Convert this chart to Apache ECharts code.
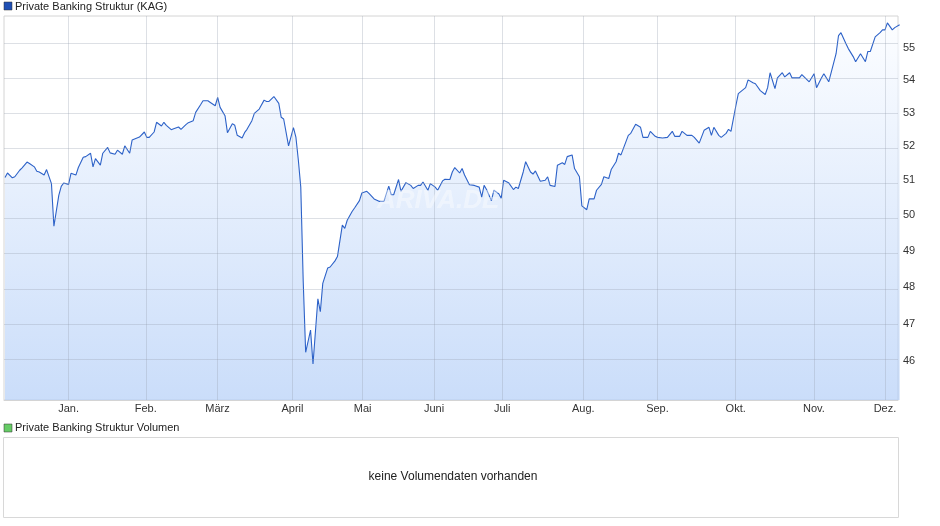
<!DOCTYPE html>
<html><head><meta charset="utf-8">
<script src="https://cdn.jsdelivr.net/npm/echarts@6/dist/echarts.min.js"></script>
<style>html,body{margin:0;padding:0;background:#fff}#c{width:940px;height:526px}</style>
</head><body><div id="c"></div>
<script>
const dates = ['2024-12-06','2024-12-07','2024-12-09','2024-12-10','2024-12-12','2024-12-13','2024-12-15','2024-12-16','2024-12-18','2024-12-19','2024-12-20','2024-12-22','2024-12-23','2024-12-25','2024-12-26','2024-12-28','2024-12-29','2024-12-30',
'2025-01-01','2025-01-02','2025-01-04','2025-01-05','2025-01-07','2025-01-08','2025-01-10','2025-01-11','2025-01-12','2025-01-14','2025-01-15','2025-01-17','2025-01-18','2025-01-20','2025-01-21','2025-01-23','2025-01-24','2025-01-26','2025-01-27','2025-01-28','2025-01-30',
'2025-02-01','2025-02-02','2025-02-03','2025-02-05','2025-02-06','2025-02-08','2025-02-09','2025-02-10','2025-02-12','2025-02-13','2025-02-15','2025-02-16','2025-02-18','2025-02-19','2025-02-21','2025-02-22','2025-02-24','2025-02-25','2025-02-27','2025-02-28',
'2025-03-02','2025-03-03','2025-03-04','2025-03-06','2025-03-07','2025-03-09','2025-03-10','2025-03-11','2025-03-13','2025-03-14','2025-03-15','2025-03-17','2025-03-18','2025-03-20','2025-03-22','2025-03-23','2025-03-24','2025-03-26','2025-03-28','2025-03-29','2025-03-30',
'2025-04-01','2025-04-03','2025-04-04','2025-04-05','2025-04-06','2025-04-07','2025-04-08','2025-04-10','2025-04-11','2025-04-13','2025-04-14','2025-04-15','2025-04-17','2025-04-18','2025-04-20','2025-04-21','2025-04-23','2025-04-24','2025-04-25','2025-04-27','2025-04-28','2025-04-30',
'2025-05-01','2025-05-03','2025-05-04','2025-05-06','2025-05-08','2025-05-10','2025-05-12','2025-05-13','2025-05-14','2025-05-16','2025-05-17','2025-05-19','2025-05-21','2025-05-22','2025-05-24','2025-05-25','2025-05-26','2025-05-28','2025-05-29','2025-05-31',
'2025-06-01','2025-06-03','2025-06-04','2025-06-06','2025-06-07','2025-06-08','2025-06-10','2025-06-11','2025-06-12','2025-06-14','2025-06-16','2025-06-18','2025-06-19','2025-06-20','2025-06-21','2025-06-23','2025-06-24','2025-06-26','2025-06-27','2025-06-28','2025-06-30',
'2025-07-02','2025-07-03','2025-07-04','2025-07-06','2025-07-07','2025-07-09','2025-07-10','2025-07-11','2025-07-13','2025-07-15','2025-07-16','2025-07-17','2025-07-19','2025-07-20','2025-07-22','2025-07-23','2025-07-24','2025-07-26','2025-07-27','2025-07-29','2025-07-30',
'2025-08-01','2025-08-02','2025-08-04','2025-08-05','2025-08-07','2025-08-08','2025-08-10','2025-08-11','2025-08-13','2025-08-14','2025-08-15','2025-08-18','2025-08-19','2025-08-21','2025-08-23','2025-08-24','2025-08-26','2025-08-27','2025-08-29','2025-08-30',
'2025-09-01','2025-09-03','2025-09-05','2025-09-06','2025-09-08','2025-09-09','2025-09-11','2025-09-13','2025-09-14','2025-09-16','2025-09-18','2025-09-20','2025-09-21','2025-09-22','2025-09-24','2025-09-25','2025-09-27','2025-09-28','2025-09-29',
'2025-10-01','2025-10-02','2025-10-05','2025-10-06','2025-10-08','2025-10-09','2025-10-11','2025-10-13','2025-10-14','2025-10-15','2025-10-17','2025-10-18','2025-10-20','2025-10-21','2025-10-23','2025-10-24','2025-10-27','2025-10-28','2025-10-31',
'2025-11-02','2025-11-03','2025-11-05','2025-11-06','2025-11-08','2025-11-11','2025-11-12','2025-11-13','2025-11-15','2025-11-16','2025-11-18','2025-11-19','2025-11-21','2025-11-23','2025-11-24','2025-11-25','2025-11-27','2025-11-29','2025-11-30',
'2025-12-01','2025-12-02','2025-12-04','2025-12-05','2025-12-07'];
const prices = [51.08,51.21,51.07,51.10,51.29,51.36,51.53,51.49,51.39,51.26,51.24,51.15,51.31,50.90,49.68,50.56,50.82,50.92,
50.88,51.20,51.15,51.37,51.67,51.69,51.79,51.39,51.63,51.44,51.79,51.96,51.80,51.76,51.88,51.76,52.01,51.79,52.18,52.21,52.27,
52.42,52.26,52.26,52.42,52.71,52.60,52.71,52.62,52.49,52.52,52.57,52.50,52.64,52.70,52.76,53.01,53.24,53.36,53.36,53.31,
53.21,53.46,53.16,52.91,52.40,52.67,52.62,52.32,52.24,52.40,52.50,52.76,52.98,53.11,53.38,53.34,53.34,53.49,53.28,52.86,52.81,
52.01,52.55,52.27,51.59,50.80,48.14,46.24,46.83,45.93,47.67,47.32,48.09,48.51,48.54,48.71,48.83,49.71,49.62,49.85,50.10,50.20,50.41,
50.63,50.68,50.61,50.46,50.39,50.39,50.83,50.58,50.58,51.02,50.68,50.93,50.85,50.76,50.85,50.85,50.95,50.71,50.90,50.80,
50.71,50.98,51.03,51.02,51.24,51.37,51.21,51.34,51.15,50.87,50.85,50.80,50.51,50.85,50.73,50.41,50.71,50.61,50.48,51.00,50.93,
50.73,50.80,50.76,51.24,51.54,51.24,51.18,51.27,50.97,51.00,51.10,50.85,50.82,51.44,51.51,51.46,51.69,51.74,51.34,51.10,50.26,
50.15,50.46,50.46,50.71,50.88,51.10,51.05,51.31,51.54,51.79,51.74,52.32,52.38,52.65,52.56,52.26,52.26,52.44,52.29,52.26,
52.24,52.26,52.44,52.29,52.29,52.44,52.32,52.32,52.26,52.09,52.47,52.56,52.32,52.56,52.32,52.26,52.38,52.50,52.44,
53.21,53.58,53.76,54.00,53.91,53.88,53.67,53.55,53.76,54.22,53.73,54.06,54.22,54.09,54.22,54.06,54.06,54.16,53.94,
54.19,53.76,54.06,54.19,53.94,54.81,55.38,55.47,55.13,54.97,54.72,54.56,54.81,54.56,54.88,54.88,55.34,55.47,55.56,
55.56,55.78,55.56,55.63,55.72];
const yTicks = [46,47,48,49,50,51,52,53,54,55];
const monthGridDates = ['2025-01-01T00:00','2025-02-01T14:00','2025-03-02T22:00','2025-04-02T14:00','2025-05-01T08:00','2025-05-30T12:00','2025-06-27T10:00','2025-07-30T14:00','2025-08-29T22:00','2025-09-30T22:00','2025-11-01T22:00','2025-12-01T00:00'];
const monthLabels = ['Jan.','Feb.','März','April','Mai','Juni','Juli','Aug.','Sep.','Okt.','Nov.','Dez.'];

const chart = echarts.init(document.getElementById('c'));
const gridColor = 'rgba(150,160,175,0.32)';
const mlData = yTicks.map(v => ({yAxis: Math.log(v), label:{show:false}}))
  .concat(monthGridDates.map((d,i) => ({xAxis: d, label:{show:true, position:'start', formatter: monthLabels[i], distance:3, color:'#333', fontSize:11, fontFamily:'Liberation Sans'}})));
chart.setOption({
  animation:false,
  grid:{left:4, right:42, top:16, bottom:126, show:true, borderColor:'#d4d4d4', borderWidth:1},
  xAxis:{type:'time', min:'2024-12-05T14:00:00', max:'2025-12-06T08:00:00',
    axisLabel:{show:false}, axisTick:{show:false}, splitLine:{show:false},
    axisLine:{show:true, lineStyle:{color:'#d4d4d4'}}},
  yAxis:{type:'value', position:'right', min:Math.log(45), max:Math.log(56),
    axisLine:{show:false}, axisTick:{show:false}, splitLine:{show:false},
    axisLabel:{customValues: yTicks.map(v=>Math.log(v)), formatter: v => String(Math.round(Math.exp(v))), color:'#333', fontSize:11, fontFamily:'Liberation Sans', margin:5}},
  series:[{type:'line', showSymbol:false, symbol:'none',
    data: dates.map((d,i)=>[d, Math.log(prices[i])]),
    lineStyle:{color:'#2d62c8', width:1.1},
    areaStyle:{origin:'start', color:new echarts.graphic.LinearGradient(0,0,0,1,[{offset:0,color:'#fafcff'},{offset:1,color:'#b3cef7'}])},
    markLine:{silent:true, symbol:'none', lineStyle:{color:gridColor, type:'solid', width:1}, data: mlData}
  }],
  graphic:[
    {type:'text', left:377, top:188, z:100, style:{text:'ARIVA.DE', font:'italic bold 26px Liberation Sans', fill:'rgba(255,255,255,0.4)'}},
    {type:'rect', shape:{x:4,y:2,width:8,height:8}, style:{fill:'#1f4fb4', stroke:'#333', lineWidth:0.5}},
    {type:'text', x:15, y:1, style:{text:'Private Banking Struktur (KAG)', font:'11px Liberation Sans', fill:'#222'}},
    {type:'rect', shape:{x:4,y:424,width:8,height:8}, style:{fill:'#66cc66', stroke:'#333', lineWidth:0.5}},
    {type:'text', x:15, y:422, style:{text:'Private Banking Struktur Volumen', font:'11px Liberation Sans', fill:'#222'}},
    {type:'rect', shape:{x:3.5,y:437.5,width:895,height:80}, style:{fill:'none', stroke:'#d8d8d8', lineWidth:1}},
    {type:'text', x:453, y:477, style:{text:'keine Volumendaten vorhanden', font:'12px Liberation Sans', fill:'#222', align:'center', verticalAlign:'middle'}}
  ]
});
</script></body></html>
